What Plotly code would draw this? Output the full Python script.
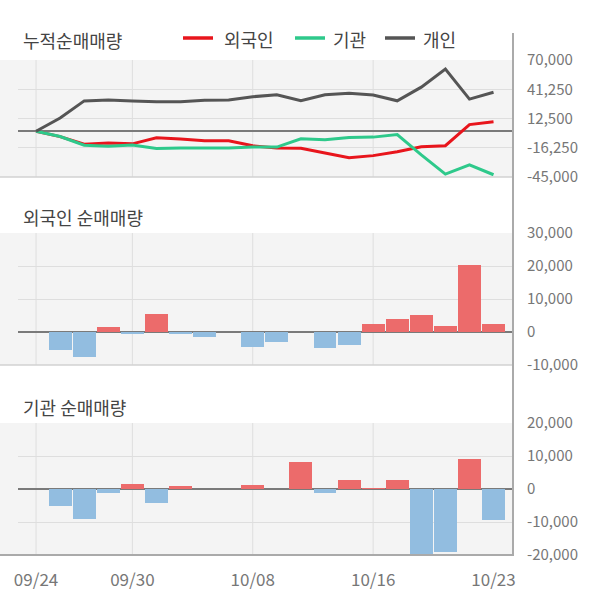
import plotly.graph_objects as go

# ---------------- data ----------------
dates = ["09/24", "09/25", "09/26", "09/27", "09/30", "10/01", "10/02", "10/04", "10/07", "10/08",
         "10/10", "10/11", "10/14", "10/15", "10/16", "10/17", "10/18", "10/21", "10/22", "10/23"]
tick_dates = ["09/24", "09/30", "10/08", "10/16", "10/23"]

foreign_cum = [0, -5300, -12700, -11600, -12400, -6400, -7600, -9300, -9300, -14300,
               -16500, -16800, -21500, -26000, -24000, -20200, -15200, -14200, 6500, 9200]
inst_cum = [0, -5200, -13800, -14800, -13600, -17000, -16600, -16600, -16600, -15600,
            -15600, -7400, -8400, -6200, -5800, -3300, -23300, -42200, -33000, -42800]
indiv_cum = [0, 13000, 29800, 30800, 29800, 28900, 28900, 30500, 30800, 33900,
             35900, 29900, 35900, 37200, 35600, 29900, 43300, 61000, 31600, 38300]

foreign_daily = [0, -5600, -7600, 1400, -600, 5400, -600, -1500, 0, -4600,
                 -3100, 0, -4900, -3800, 2300, 3900, 5100, 1700, 20300, 2300]
inst_daily = [0, -5100, -9100, -1300, 1600, -4200, 1000, 0, 0, 1300,
              0, 8200, -1100, 2700, 400, 2700, -21000, -19200, 9000, -9400]

cum_ticks = [70000, 41250, 12500, -16250, -45000]
foreign_ticks = [30000, 20000, 10000, 0, -10000]
inst_ticks = [20000, 10000, 0, -10000, -20000]

series_names = ["외국인", "기관", "개인"]
titles = ["누적순매매량", "외국인 순매매량", "기관 순매매량"]

# ---------------- styles ----------------
W, H = 600, 604
ML, MR, MT, MB = 18, 86, 60, 49
PW, PH = W - ML - MR, H - MT - MB
FONT = "Noto Sans CJK KR"
RED_LINE, GREEN_LINE, GRAY_LINE = "#e8151c", "#2ec98b", "#555555"
BAR_POS, BAR_NEG = "#ec6b6b", "#92bde0"
BG = "#f4f4f4"
GRID = "#dedede"


def px_x(px):
    return (px - ML) / PW


def px_y(py):
    return (H - MB - py) / PH


idx = list(range(len(dates)))
tick_idx = [dates.index(d) for d in tick_dates]

domains = [
    [px_y(177), px_y(60)],
    [px_y(365), px_y(233)],
    [px_y(555), px_y(423)],
]

fig = go.Figure()

line_colors = [RED_LINE, GREEN_LINE, GRAY_LINE]
for name, vals, col in zip(series_names, [foreign_cum, inst_cum, indiv_cum], line_colors):
    fig.add_trace(go.Scatter(x=idx, y=vals, mode="lines", name=name,
                             line=dict(color=col, width=3), xaxis="x", yaxis="y",
                             showlegend=False, hoverinfo="skip"))

fig.add_trace(go.Bar(x=idx, y=foreign_daily, width=0.95,
                     marker=dict(color=[BAR_POS if v >= 0 else BAR_NEG for v in foreign_daily], line=dict(width=0)),
                     xaxis="x2", yaxis="y2", showlegend=False, hoverinfo="skip"))
fig.add_trace(go.Bar(x=idx, y=inst_daily, width=0.95,
                     marker=dict(color=[BAR_POS if v >= 0 else BAR_NEG for v in inst_daily], line=dict(width=0)),
                     xaxis="x3", yaxis="y3", showlegend=False, hoverinfo="skip"))

xr = [-0.75, 19.85]
xbase = dict(range=xr, showgrid=False, zeroline=False, showline=False, fixedrange=True,
             tickvals=tick_idx, ticktext=tick_dates, ticks="")
fig.update_layout(
    xaxis=dict(**xbase, domain=[0, 1], anchor="y", showticklabels=False),
    xaxis2=dict(**xbase, domain=[0, 1], anchor="y2", showticklabels=False),
    xaxis3=dict(**xbase, domain=[0, 1], anchor="y3", showticklabels=True,
                tickfont=dict(family=FONT, size=17, color="#777777"), ticklabelstandoff=13),
)

ybase = dict(side="right", showgrid=True, gridcolor=GRID, gridwidth=1, showline=False,
             ticks="", tickfont=dict(family=FONT, size=15, color="#777777"),
             ticklabelstandoff=12, fixedrange=True, separatethousands=True)
fig.update_layout(
    yaxis=dict(**ybase, domain=domains[0], anchor="x", range=[-45000, 70000], tickvals=cum_ticks,
               ticktext=[f"{v:,}" for v in cum_ticks],
               zeroline=True, zerolinecolor="#7a7a7a", zerolinewidth=2),
    yaxis2=dict(**ybase, domain=domains[1], anchor="x2", range=[-10000, 30000], tickvals=foreign_ticks,
                ticktext=[f"{v:,}" for v in foreign_ticks],
                zeroline=True, zerolinecolor="#7a7a7a", zerolinewidth=2.5),
    yaxis3=dict(**ybase, domain=domains[2], anchor="x3", range=[-20000, 20000], tickvals=inst_ticks,
                ticktext=[f"{v:,}" for v in inst_ticks],
                zeroline=True, zerolinecolor="#7a7a7a", zerolinewidth=2.5),
)

shapes = []
for yref_dom in ["y domain", "y2 domain", "y3 domain"]:
    shapes.append(dict(type="rect", xref="paper", yref=yref_dom, x0=px_x(0), x1=0, y0=0, y1=1,
                       fillcolor=BG, line=dict(width=0), layer="below"))
    xr_name = {"y domain": "x", "y2 domain": "x2", "y3 domain": "x3"}[yref_dom]
    for t in tick_idx[:-1]:
        shapes.append(dict(type="line", xref=xr_name, yref=yref_dom, x0=t, x1=t, y0=0, y1=1,
                           line=dict(color=GRID, width=1), layer="below"))

shapes.append(dict(type="line", xref="paper", yref="y domain", x0=px_x(0), x1=1, y0=0, y1=0,
                   line=dict(color="#d2d2d2", width=1.5)))
shapes.append(dict(type="line", xref="paper", yref="y2 domain", x0=px_x(0), x1=1, y0=0, y1=0,
                   line=dict(color="#d2d2d2", width=1.5)))
shapes.append(dict(type="line", xref="paper", yref="y3 domain", x0=px_x(0), x1=1, y0=0, y1=0,
                   line=dict(color="#aaaaaa", width=2)))
shapes.append(dict(type="line", xref="paper", yref="paper", x0=px_x(513), x1=px_x(513),
                   y0=px_y(555), y1=px_y(33), line=dict(color="#aaaaaa", width=2)))

legend_items = [(183, 222), (295, 331), (385, 421)]
annotations = []
for (lx, tx), name, col in zip(legend_items, series_names, line_colors):
    shapes.append(dict(type="line", xref="paper", yref="paper", x0=px_x(lx), x1=px_x(lx + 30),
                       y0=px_y(38), y1=px_y(38), line=dict(color=col, width=3.5)))
    annotations.append(dict(text=name, xref="paper", yref="paper", x=px_x(tx), y=px_y(39),
                            xanchor="left", yanchor="middle", showarrow=False,
                            font=dict(family=FONT, size=18, color="#444444")))

for title, ty in zip(titles, [40, 217, 407]):
    annotations.append(dict(text=title, xref="paper", yref="paper", x=px_x(21), y=px_y(ty),
                            xanchor="left", yanchor="middle", showarrow=False,
                            font=dict(family=FONT, size=18, color="#444444")))

fig.update_layout(
    width=W, height=H, margin=dict(l=ML, r=MR, t=MT, b=MB),
    paper_bgcolor="white", plot_bgcolor=BG, bargap=0, barmode="relative",
    shapes=shapes, annotations=annotations, showlegend=False,
    font=dict(family=FONT),
)

fig.write_html("out.html", config={"displayModeBar": False, "staticPlot": True},
               post_script="document.body.style.margin='0px';")
